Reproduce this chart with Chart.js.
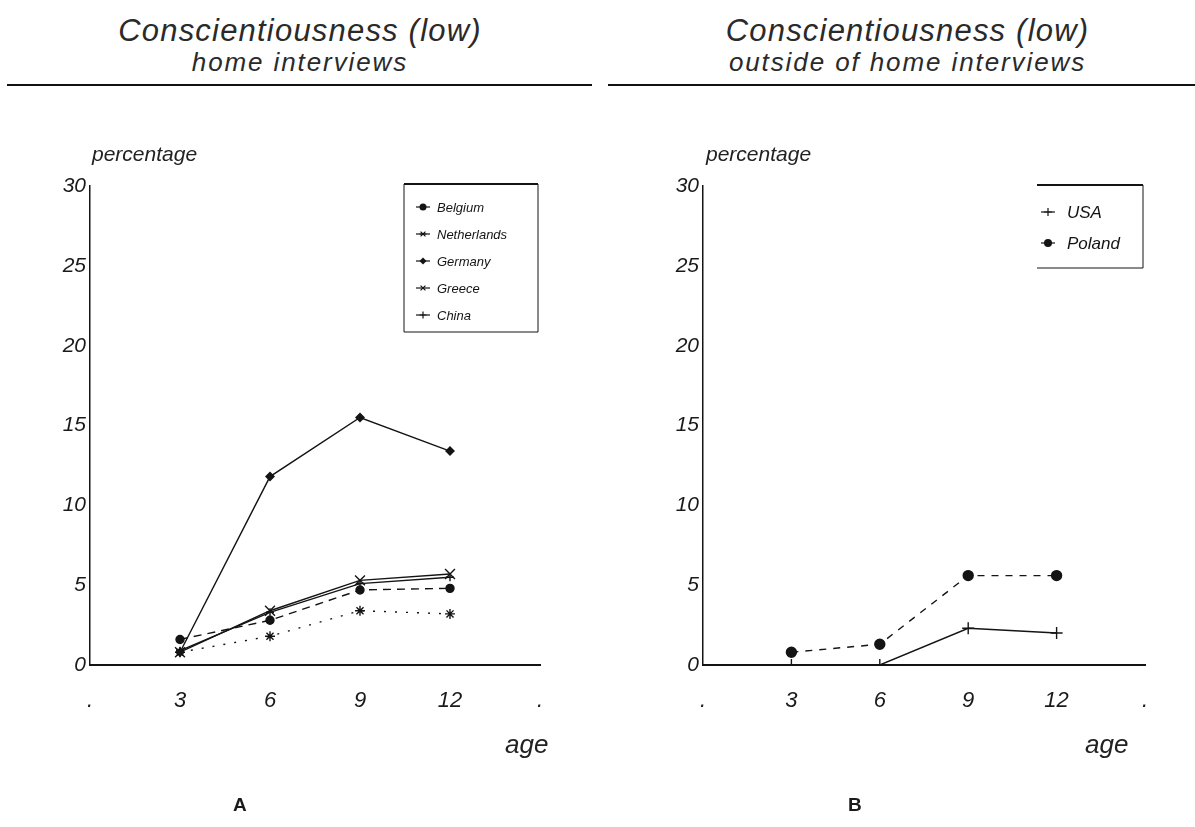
<!DOCTYPE html>
<html>
<head>
<meta charset="utf-8">
<script src="https://cdn.jsdelivr.net/npm/chart.js"></script>
<style>
  body { margin: 0; background: #fff; width: 1195px; height: 827px; overflow: hidden; position: relative;
         font-family: 'Liberation Sans', Arial, sans-serif; color: #1a1a1a; }
  .panel { position: absolute; top: 0; height: 827px; }
  #panelA { left: 0; width: 600px; }
  #panelB { left: 600px; width: 595px; }
  .panel canvas { position: absolute; left: 0; top: 0; }
  .title { position: absolute; text-align: center; font-style: italic; white-space: nowrap; color: #2a2a2a; }
  .main { top: 13px; font-size: 31px; letter-spacing: 1.2px; }
  .sub { top: 47px; font-size: 26px; letter-spacing: 1.9px; }
  .rule { position: absolute; top: 84px; height: 2px; background: #111; }
  .ylab, .xlab { position: absolute; font-style: italic; white-space: nowrap; color: #222; }
  .ylab { top: 142px; font-size: 21px; }
  .xlab { top: 729px; font-size: 26px; }
  .tag { position: absolute; top: 794px; font-size: 19px; font-weight: bold; }
</style>
</head>
<body>

<div class="panel" id="panelA">
  <div class="title main" style="left:0;width:600px">Conscientiousness (low)</div>
  <div class="title sub" style="left:0;width:600px">home interviews</div>
  <div class="rule" style="left:7px;width:585px"></div>
  <canvas id="chartA" width="600" height="827"></canvas>
  <div class="ylab" style="left:92px">percentage</div>
  <div class="xlab" style="left:505px">age</div>
  <div class="tag" style="left:233px">A</div>
</div>

<div class="panel" id="panelB">
  <div class="title main" style="left:10px;width:595px">Conscientiousness (low)</div>
  <div class="title sub" style="left:10px;width:595px">outside of home interviews</div>
  <div class="rule" style="left:8px;width:587px"></div>
  <canvas id="chartB" width="595" height="827"></canvas>
  <div class="ylab" style="left:106px">percentage</div>
  <div class="xlab" style="left:485px">age</div>
  <div class="tag" style="left:248px">B</div>
</div>

<script>
// age categories (the dots pad both ends of the axis)
var ageLabels = ['.', '3', '6', '9', '12', '.'];
var percentTicks = [0, 5, 10, 15, 20, 25, 30];

// home interviews, % low conscientiousness
var belgium     = [null, 1.6, 2.8, 4.7, 4.8, null];
var netherlands = [null, 0.8, 1.8, 3.4, 3.2, null];
var germany     = [null, 0.8, 11.8, 15.5, 13.4, null];
var greece      = [null, 0.8, 3.4, 5.3, 5.7, null];
var china       = [null, 0.9, 3.3, 5.1, 5.5, null];

// outside of home interviews
var usa    = [null, 0, 0, 2.3, 2.0, null];
var poland = [null, 0.8, 1.3, 5.6, 5.6, null];

var ink = '#141414';

function drawMark(ctx, style, x, y, r) {
  ctx.beginPath();
  if (style == 'circle') {
    ctx.arc(x, y, r, 0, Math.PI * 2);
    ctx.fill();
  } else if (style == 'rectRot') {
    ctx.moveTo(x, y - r); ctx.lineTo(x + r, y); ctx.lineTo(x, y + r); ctx.lineTo(x - r, y);
    ctx.closePath();
    ctx.fill();
  } else if (style == 'cross') {
    ctx.moveTo(x - r, y); ctx.lineTo(x + r, y);
    ctx.moveTo(x, y - r); ctx.lineTo(x, y + r);
    ctx.stroke();
  } else if (style == 'crossRot') {
    ctx.moveTo(x - r * .7, y - r * .7); ctx.lineTo(x + r * .7, y + r * .7);
    ctx.moveTo(x + r * .7, y - r * .7); ctx.lineTo(x - r * .7, y + r * .7);
    ctx.stroke();
  } else if (style == 'star') {
    ctx.moveTo(x - r, y); ctx.lineTo(x + r, y);
    ctx.moveTo(x - r * .7, y - r * .7); ctx.lineTo(x + r * .7, y + r * .7);
    ctx.moveTo(x + r * .7, y - r * .7); ctx.lineTo(x - r * .7, y + r * .7);
    ctx.stroke();
  }
}

// legend drawn in a box inside the plot
var boxLegend = {
  id: 'boxLegend',
  afterDraw: function(chart, args, opts) {
    var ctx = chart.ctx;
    ctx.save();
    ctx.strokeStyle = ink;
    ctx.fillStyle = ink;
    ctx.lineWidth = 1;
    ctx.beginPath();
    if (opts.openLeft) {
      ctx.moveTo(opts.left, opts.top);
      ctx.lineTo(opts.left + opts.width, opts.top);
      ctx.lineTo(opts.left + opts.width, opts.top + opts.height);
      ctx.lineTo(opts.left, opts.top + opts.height);
    } else {
      ctx.rect(opts.left, opts.top, opts.width, opts.height);
    }
    ctx.stroke();
    ctx.lineWidth = 2;
    ctx.beginPath();
    ctx.moveTo(opts.left, opts.top);
    ctx.lineTo(opts.left + opts.width, opts.top);
    ctx.stroke();

    ctx.font = opts.font;
    ctx.textBaseline = 'middle';
    chart.data.datasets.forEach(function(ds, i) {
      var y = opts.top + opts.first + i * opts.step;
      var mx = opts.left + opts.mark;
      ctx.lineWidth = 1.2;
      ctx.setLineDash([]);
      ctx.beginPath();
      ctx.moveTo(mx - 7, y);
      ctx.lineTo(mx + 7, y);
      ctx.stroke();
      drawMark(ctx, ds.pointStyle, mx, y, opts.markSize);
      ctx.fillText(ds.label, opts.left + opts.text, y + 1);
    });
    ctx.restore();
  }
};

function series(label, values, style, dash, radius) {
  return {
    label: label,
    data: values,
    borderColor: ink,
    backgroundColor: ink,
    borderWidth: 1.4,
    borderDash: dash,
    pointStyle: style,
    pointRadius: radius,
    pointBackgroundColor: ink,
    pointBorderColor: ink,
    pointBorderWidth: 1.4,
    tension: 0
  };
}

function makeChart(id, datasets, axisLeft, plotRight, legend) {
  var canvas = document.getElementById(id);
  return new Chart(canvas.getContext('2d'), {
    type: 'line',
    data: { labels: ageLabels, datasets: datasets },
    options: {
      responsive: false,
      animation: false,
      events: [],
      layout: { padding: { top: 186, right: canvas.width - plotRight, bottom: 112, left: 0 } },
      plugins: {
        legend: { display: false },
        tooltip: { enabled: false },
        boxLegend: legend
      },
      scales: {
        x: {
          offset: false,
          grid: { display: false, drawTicks: false },
          border: { display: true, color: ink, width: 2 },
          ticks: {
            color: '#1a1a1a', padding: 23, maxRotation: 0, autoSkip: false,
            font: { family: 'Liberation Sans', size: 22, style: 'italic' }
          },
          afterFit: function(s) { s.height = 50; }
        },
        y: {
          min: 0, max: 30,
          grid: { display: false, drawTicks: false },
          border: { display: true, color: ink, width: 1.5 },
          ticks: {
            color: '#1a1a1a', padding: 4,
            font: { family: 'Liberation Sans', size: 21, style: 'italic' }
          },
          afterBuildTicks: function(s) {
            s.ticks = percentTicks.map(function(v) { return { value: v }; });
          },
          afterFit: function(s) { s.width = axisLeft; }
        }
      }
    },
    plugins: [boxLegend]
  });
}

makeChart('chartA', [
  series('Belgium', belgium, 'circle', [8, 6], 4),
  series('Netherlands', netherlands, 'star', [2, 9], 5),
  series('Germany', germany, 'rectRot', [], 4),
  series('Greece', greece, 'crossRot', [], 7),
  series('China', china, 'cross', [], 4)
], 90, 540, {
  left: 404, top: 184, width: 134, height: 148,
  first: 23, step: 27, mark: 19, markSize: 3.5, text: 33,
  font: 'italic 13px "Liberation Sans"'
});

makeChart('chartB', [
  series('USA', usa, 'cross', [], 6),
  series('Poland', poland, 'circle', [7, 7], 5)
], 103, 545, {
  left: 437, top: 185, width: 106, height: 83, openLeft: true,
  first: 27, step: 31, mark: 11, markSize: 4, text: 30,
  font: 'italic 17px "Liberation Sans"'
});
</script>
</body>
</html>
